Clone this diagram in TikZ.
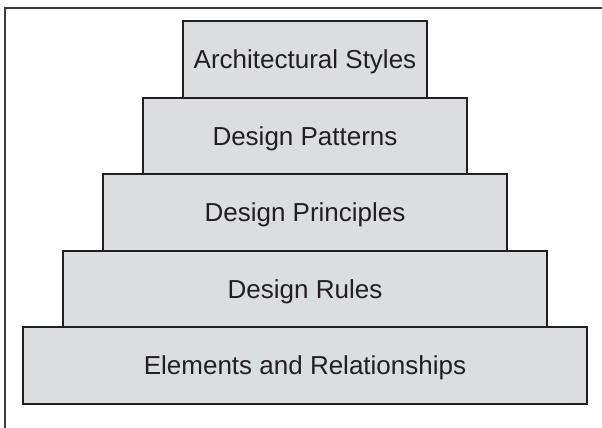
\documentclass[tikz,border=0pt]{standalone}
\usepackage{fontspec}
\setmainfont{Liberation Sans}
\definecolor{stepfill}{RGB}{220,221,223}
\definecolor{stepline}{RGB}{35,31,32}
\definecolor{frameline}{RGB}{60,60,60}
\begin{document}
\begin{tikzpicture}[x=1pt,y=-1pt,
  tier/.style={draw=stepline, line width=2pt, fill=stepfill, rectangle, inner sep=0pt,
    minimum height=76.5pt, text height=19pt, text depth=0pt,
    font=\fontsize{26}{30}\selectfont, text=stepline}]
\useasboundingbox (0,0) rectangle (602,428);
\coordinate (ftop) at (602,8);
\coordinate (fcorner) at (5,8);
\coordinate (fbot) at (5,428);
\draw[frameline, line width=1.3pt] (ftop) -- (fcorner) -- (fbot);
\node[tier, minimum width=564pt] (e) at (305,365.25) {Elements and Relationships};
\node[tier, minimum width=484pt] (r) at (305,288.75) {Design Rules};
\node[tier, minimum width=404pt] (p) at (305,212.25) {Design Principles};
\node[tier, minimum width=324pt] (d) at (305,135.75) {Design Patterns};
\node[tier, minimum width=244pt] (a) at (305,59.25) {Architectural Styles};
\end{tikzpicture}
\end{document}
